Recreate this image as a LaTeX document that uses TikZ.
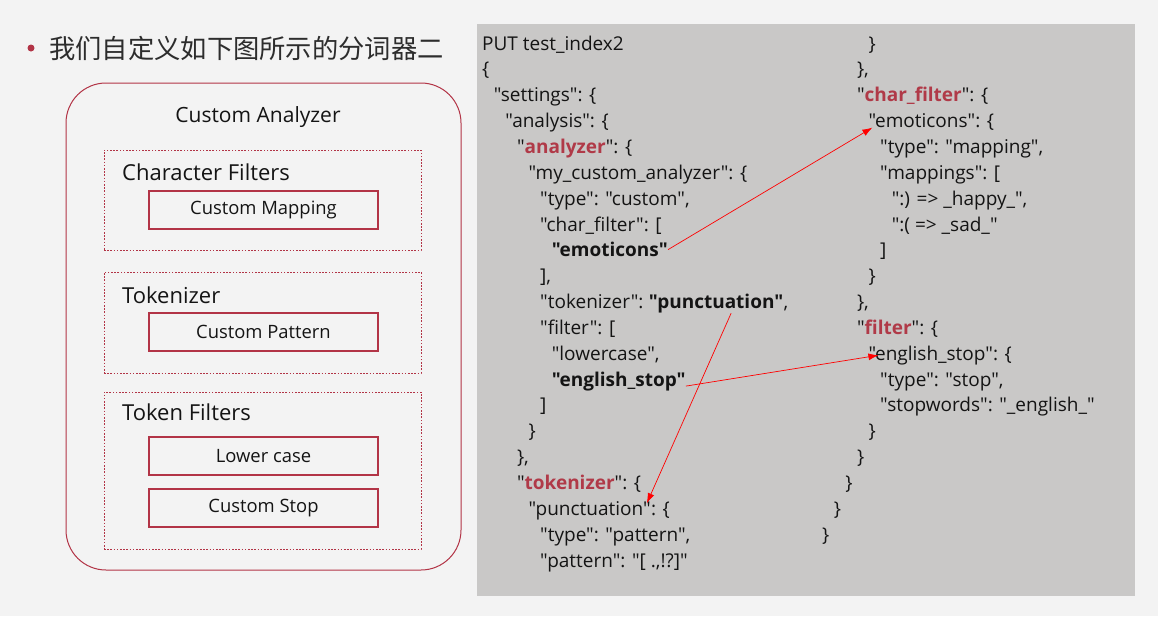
\documentclass[tikz,border=0pt]{standalone}
\usepackage{fontspec}
\setmainfont{Open Sans}[Ligatures=TeXOff]
\newfontfamily\cjkfont{Noto Sans CJK SC}
\usetikzlibrary{calc}
\usetikzlibrary{arrows.meta}

\definecolor{pagegray}{RGB}{243,243,243}
\definecolor{panelgray}{RGB}{201,200,199}
\definecolor{boxred}{RGB}{178,52,70}
\definecolor{keyred}{RGB}{176,58,72}
\definecolor{textblack}{RGB}{20,20,20}

\tikzset{
  code/.style={anchor=base west, inner sep=0pt, font=\fontsize{19}{21}\selectfont, text=textblack},
  stagebox/.style={draw=boxred, dash pattern=on 1.6pt off 1.6pt, line width=1pt, minimum width=317pt},
  stagelabel/.style={anchor=west, inner sep=0pt, font=\fontsize{22}{24}\selectfont, text=textblack},
  partbox/.style={draw=boxred, line width=1.3pt, minimum width=229pt, minimum height=38pt, font=\fontsize{18.4}{20}\selectfont, text=textblack},
  link/.style={red, line width=0.7pt, -{Latex[length=10pt, width=7pt]}},
}

\begin{document}
\begin{tikzpicture}[x=1pt, y=-1pt]

\fill [pagegray] (0, 0) rectangle (1158, 616);
\fill [panelgray] (477, 24) rectangle (1135, 596);

% title line
\fill [boxred] (31, 48) circle (3.5);
\node [anchor=west, inner sep=0pt, font=\cjkfont\fontsize{26.3}{28}\selectfont, text={rgb,255:red,45;green,45;blue,45}] (title) at (49, 48) {我们自定义如下图所示的分词器二};

% analyzer diagram
\node [draw=boxred, line width=1pt, rounded corners=40pt, minimum width=395pt, minimum height=487pt] (analyzer) at (263.5, 326.5) {};
\node [font=\fontsize{21}{23}\selectfont, text=textblack] (analyzername) at (258, 117) {Custom Analyzer};

\node [stagebox, minimum height=100pt] (charbox) at (262.5, 200) {};
\node [stagebox, minimum height=101pt] (tokbox) at (262.5, 322.5) {};
\node [stagebox, minimum height=157pt] (filtbox) at (262.5, 470.5) {};

\node [stagelabel] (charlabel) at (122, 172) {Character Filters};
\node [stagelabel] (toklabel) at (122, 295) {Tokenizer};
\node [stagelabel] (filtlabel) at (122, 412) {Token Filters};

\node [partbox] (mapping) at (263.5, 210) {Custom Mapping};
\node [partbox] (pattern) at (263.5, 332) {Custom Pattern};
\node [partbox] (lower) at (263.5, 456) {Lower case};
\node [partbox] (stop) at (263.5, 508) {Custom Stop};

% request body, left column
\node [code] (l0) at (482, 50) {PUT test\_index2};
\node [code] (l1) at (482, 75.9) {\{};
\node [code] (l2) at (493.6, 101.7) {"settings": \{};
\node [code] (l3) at (505.2, 127.6) {"analysis": \{};
\node [code] (l4) at (516.8, 153.4) {"\textcolor{keyred}{\textbf{analyzer}}": \{};
\node [code] (l5) at (528.4, 179.3) {"my\_custom\_analyzer": \{};
\node [code] (l6) at (540, 205.1) {"type": "custom",};
\node [code] (l7) at (540, 231) {"char\_filter": [};
\node [code] (emoL) at (551.6, 256.8) {\textbf{"emoticons"}};
\node [code] (l9) at (540, 282.7) {],};
\node [code] (l10) at (540, 308.5) {"tokenizer":};
\node [code] (punctL) at ($(l10.base east)+(5, 0)$) {\textbf{"punctuation"}};
\node [code] (l10b) at (punctL.base east) {,};
\node [code] (l11) at (540, 334.4) {"filter": [};
\node [code] (l12) at (551.6, 360.2) {"lowercase",};
\node [code] (esL) at (551.6, 386.1) {\textbf{"english\_stop"}};
\node [code] (l14) at (540, 411.9) {]};
\node [code] (l15) at (528.4, 437.8) {\}};
\node [code] (l16) at (516.8, 463.6) {\},};
\node [code] (l17) at (516.8, 489.5) {"\textcolor{keyred}{\textbf{tokenizer}}": \{};
\node [code] (punctT) at (528.4, 515.3) {"punctuation"};
\node [code] (l18b) at (punctT.base east) {: \{};
\node [code] (l19) at (540, 541.2) {"type": "pattern",};
\node [code] (l20) at (540, 567) {"pattern": "[ .,!?]"};

% request body, right column
\node [code] (r0) at (868.4, 50) {\}};
\node [code] (r1) at (856.8, 75.9) {\},};
\node [code] (r2) at (856.8, 101.7) {"\textcolor{keyred}{\textbf{char\_filter}}": \{};
\node [code] (emoR) at (868.4, 127.6) {"emoticons": \{};
\node [code] (r4) at (880, 153.4) {"type": "mapping",};
\node [code] (r5) at (880, 179.3) {"mappings": [};
\node [code] (r6) at (891.6, 205.1) {":) => \_happy\_",};
\node [code] (r7) at (891.6, 231) {":( => \_sad\_"};
\node [code] (r8) at (880, 256.8) {]};
\node [code] (r9) at (868.4, 282.7) {\}};
\node [code] (r10) at (856.8, 308.5) {\},};
\node [code] (r11) at (856.8, 334.4) {"\textcolor{keyred}{\textbf{filter}}": \{};
\node [code] (esR) at (868.4, 360.2) {"english\_stop": \{};
\node [code] (r13) at (880, 386.1) {"type": "stop",};
\node [code] (r14) at (880, 411.9) {"stopwords": "\_english\_"};
\node [code] (r15) at (868.4, 437.8) {\}};
\node [code] (r16) at (856.8, 463.6) {\}};
\node [code] (r17) at (845.2, 489.5) {\}};
\node [code] (r18) at (833.6, 515.3) {\}};
\node [code] (r19) at (822, 541.2) {\}};

% links from names to definitions
\draw [link] (emoL.east) -- ($(emoR.base west)+(4, 0)$);
\draw [link] ($(punctL.south)+(15, 0)$) -- ($(punctT.north east)+(-4, 2)$);
\draw [link] (esL.base east) -- ($(esR.west)+(10, 0)$);

\end{tikzpicture}
\end{document}
